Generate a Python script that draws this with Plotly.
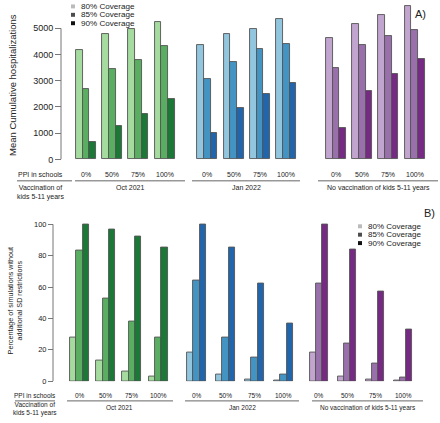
import plotly.graph_objects as go

# ---------------- data ----------------
schemes = ["Oct 2021", "Jan 2022", "No vaccination of kids 5-11 years"]
ppi_levels = ["0%", "50%", "75%", "100%"]
coverage = ["80% Coverage", "85% Coverage", "90% Coverage"]

hosp_oct_80 = [4160, 4770, 4990, 5240]
hosp_oct_85 = [2690, 3430, 3790, 4310]
hosp_oct_90 = [670, 1290, 1730, 2320]
hosp_jan_80 = [4350, 4770, 4970, 5340]
hosp_jan_85 = [3050, 3720, 4230, 4410]
hosp_jan_90 = [990, 1960, 2500, 2910]
hosp_novax_80 = [4640, 5150, 5500, 5870]
hosp_novax_85 = [3470, 4370, 4690, 4950]
hosp_novax_90 = [1180, 2610, 3250, 3820]

pct_oct_80 = [28, 13, 6, 3]
pct_oct_85 = [83, 53, 38, 28]
pct_oct_90 = [100, 97, 92, 85]
pct_jan_80 = [18, 4, 1, 0.3]
pct_jan_85 = [64, 28, 15, 4]
pct_jan_90 = [100, 85, 62, 37]
pct_novax_80 = [18, 3, 1, 0.4]
pct_novax_85 = [62, 24, 11, 2]
pct_novax_90 = [100, 84, 57, 33]

hosp_ticks = [0, 1000, 2000, 3000, 4000, 5000]
pct_ticks = [0, 20, 40, 60, 80, 100]

hosp = [[hosp_oct_80, hosp_oct_85, hosp_oct_90],
        [hosp_jan_80, hosp_jan_85, hosp_jan_90],
        [hosp_novax_80, hosp_novax_85, hosp_novax_90]]
pct = [[pct_oct_80, pct_oct_85, pct_oct_90],
       [pct_jan_80, pct_jan_85, pct_jan_90],
       [pct_novax_80, pct_novax_85, pct_novax_90]]

# ---------------- style / layout ----------------
W, H = 440, 423
colors = [["#a6dba0", "#5aae61", "#1b7837"],
          ["#92c5de", "#4393c3", "#2166ac"],
          ["#c2a5cf", "#9970ab", "#762a83"]]
FONT = "Arial, 'Liberation Sans', Helvetica, sans-serif"
TXT = "#222222"

def px(x):
    return x / W

def py(y):
    return 1 - y / H

# panel geometry (pixel units)
A = dict(starts=[86, 207.3, 336], steps=[26.2, 26.3, 26.2], barw=6.67,
         y0=161.3, ytop=0, scale=26.53 / 1000, axis_x=61)
B = dict(starts=[79.5, 196.5, 319.0], steps=[26.2, 29.0, 28.0], barw=6.3,
         y0=385.7, ytop=210, scale=158.7 / 100, axis_x=53)

fig = go.Figure()

def add_bars(panel, data, xa, ya):
    for s in range(3):
        for c in range(3):
            xs = [panel["starts"][s] + p * panel["steps"][s] + (c - 1) * panel["barw"]
                  for p in range(len(ppi_levels))]
            fig.add_trace(go.Bar(
                x=xs, y=data[s][c], width=panel["barw"],
                marker=dict(color=colors[s][c], line=dict(color="#555555", width=0.9)),
                xaxis=xa, yaxis=ya, showlegend=False, name=coverage[c],
                hovertext=[f"{schemes[s]}, PPI {p}" for p in ppi_levels]))

add_bars(A, hosp, "x", "y")
add_bars(B, pct, "x2", "y2")

rangeA = (A["y0"] - A["ytop"]) / A["scale"]
rangeB = (B["y0"] - B["ytop"]) / B["scale"]

fig.update_layout(
    width=W, height=H, margin=dict(l=0, r=0, t=0, b=0),
    paper_bgcolor="white", plot_bgcolor="white", bargap=0,
    font=dict(family=FONT, color=TXT),
    xaxis=dict(domain=[0, 1], range=[0, W], visible=False, anchor="y", fixedrange=True),
    yaxis=dict(domain=[py(A["y0"]), py(A["ytop"])], range=[0, rangeA],
               anchor="free", position=px(A["axis_x"]),
               tickvals=hosp_ticks, ticks="outside", ticklen=6, tickcolor="#777777",
               tickfont=dict(size=9, color=TXT), showgrid=False, zeroline=False,
               showline=False, fixedrange=True),
    xaxis2=dict(domain=[0, 1], range=[0, W], visible=False, anchor="y2", fixedrange=True),
    yaxis2=dict(domain=[py(B["y0"]), py(B["ytop"])], range=[0, rangeB],
                anchor="free", position=px(B["axis_x"]),
                tickvals=pct_ticks, ticks="outside", ticklen=5, tickcolor="#777777",
                tickfont=dict(size=7.5, color=TXT), showgrid=False, zeroline=False,
                showline=False, fixedrange=True),
)

shapes = []
# axis lines only spanning the tick range (R style)
shapes.append(dict(type="line", xref="paper", yref="y", x0=px(A["axis_x"]), x1=px(A["axis_x"]),
                   y0=0, y1=hosp_ticks[-1], line=dict(color="#777777", width=1)))
shapes.append(dict(type="line", xref="paper", yref="y2", x0=px(B["axis_x"]), x1=px(B["axis_x"]),
                   y0=0, y1=pct_ticks[-1], line=dict(color="#777777", width=1)))

annotations = []

def text(x, y, s, size, xanchor="center", yanchor="middle", textangle=0):
    annotations.append(dict(x=px(x), y=py(y), xref="paper", yref="paper", text=s,
                            showarrow=False, xanchor=xanchor, yanchor=yanchor,
                            textangle=textangle, borderpad=0,
                            font=dict(size=size, color=TXT, family=FONT)))

def hline(x0, x1, y):
    shapes.append(dict(type="line", xref="paper", yref="paper", x0=px(x0), x1=px(x1),
                       y0=py(y), y1=py(y), line=dict(color="#666666", width=1)))

# y titles
text(13, 86, "Mean Cumulative hospitalizations", 9.5, textangle=-90)
text(15, 305, "Percentage of simulations without<br>additional SD restrictions", 7.2, textangle=-90)

# panel labels
text(420, 14, "A)", 11)
text(429, 216, "B)", 11)

# legends
legend_gray = ["#bbbbbb", "#4d4d4d", "#111111"]
def legend(x, ys, size):
    for i, y in enumerate(ys):
        shapes.append(dict(type="rect", xref="paper", yref="paper",
                           x0=px(x - 2), x1=px(x + 2), y0=py(y + 2), y1=py(y - 2),
                           fillcolor=legend_gray[i], line=dict(width=0)))
        text(x + 7, y, coverage[i], size, xanchor="left")

legend(73, [6.5, 15, 23.5], 8.1)
legend(360, [229, 237.5, 246], 8.0)

# category labels beneath panels
def cat_labels(panel, left_x, y_ppi, y_line, y_vac, size, left_line, group_lines):
    text(left_x, y_ppi, "PPI in schools", size)
    hline(left_line[0], left_line[1], y_line)
    text(left_x, y_vac, "Vaccination of<br>kids 5-11 years", size)
    for s in range(3):
        for p, lab in enumerate(ppi_levels):
            text(panel["starts"][s] + p * panel["steps"][s], y_ppi, lab, size)
        hline(group_lines[s][0], group_lines[s][1], y_line)
        text((group_lines[s][0] + group_lines[s][1]) / 2, y_line + 7, schemes[s], size)

cat_labels(A, 40, 177, 183, 194.5, 7, (17, 72), [(75, 185), (192, 300), (318, 438)])
cat_labels(B, 35, 400, 405.7, 414, 6.5, (15, 55), [(67, 173), (185, 299), (312, 423)])

fig.update_layout(shapes=shapes, annotations=annotations)
fig.write_html("out.html", config={"displayModeBar": False},
               post_script="document.body.style.margin='0';document.body.style.padding='0';"
                           "window.dispatchEvent(new Event('resize'));")
